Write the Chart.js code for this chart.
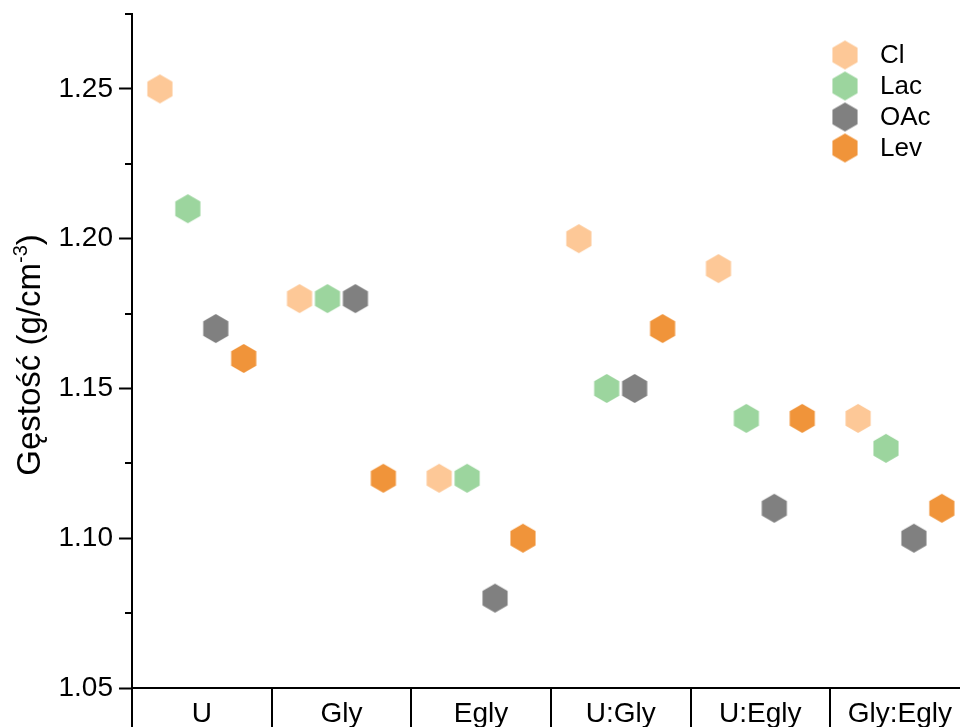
<!DOCTYPE html>
<html>
<head>
<meta charset="utf-8">
<script src="https://cdn.jsdelivr.net/npm/chart.js@4.4.1/dist/chart.umd.min.js"></script>
<style>
  html, body { margin: 0; padding: 0; background: #fff; }
  #chart { display: block; }
</style>
</head>
<body>
<canvas id="chart" width="960" height="727"></canvas>
<script>
const categories = ["U", "Gly", "Egly", "U:Gly", "U:Egly", "Gly:Egly"];
const seriesNames = ["Cl", "Lac", "OAc", "Lev"];
const clValues = [1.25, 1.18, 1.12, 1.20, 1.19, 1.14];
const lacValues = [1.21, 1.18, 1.12, 1.15, 1.14, 1.13];
const oacValues = [1.17, 1.18, 1.08, 1.15, 1.11, 1.10];
const levValues = [1.16, 1.12, 1.10, 1.17, 1.14, 1.11];
const yTicks = [1.05, 1.10, 1.15, 1.20, 1.25];
const yMinorTicks = [1.075, 1.125, 1.175, 1.225, 1.275];

const FONT = "'Liberation Sans', Arial, sans-serif";
const colors = ["#fdc897", "#9cd59e", "#808080", "#f0943a"];
const offsets = [-0.3, -0.1, 0.1, 0.3];

// hexagon marker, pointy top
function makeHex(color, r) {
  const w = Math.ceil(r * Math.sqrt(3)) + 2;
  const h = Math.ceil(2 * r) + 2;
  const c = document.createElement("canvas");
  c.width = w;
  c.height = h;
  const g = c.getContext("2d");
  g.fillStyle = color;
  g.beginPath();
  for (let k = 0; k < 6; k++) {
    const a = -Math.PI / 2 + k * Math.PI / 3;
    const px = w / 2 + r * Math.cos(a);
    const py = h / 2 + r * Math.sin(a);
    if (k === 0) g.moveTo(px, py); else g.lineTo(px, py);
  }
  g.closePath();
  g.fill();
  return c;
}

const hexes = colors.map((c) => makeHex(c, 14.5));
const allValues = [clValues, lacValues, oacValues, levValues];

const datasets = seriesNames.map((name, i) => ({
  label: name,
  data: allValues[i].map((v, j) => ({ x: j + 1 + offsets[i], y: v })),
  pointStyle: hexes[i],
  pointRadius: 14,
  showLine: false,
  backgroundColor: colors[i],
  borderColor: colors[i],
}));

const extrasPlugin = {
  id: "extras",
  afterDraw(chart) {
    const ctx = chart.ctx;
    const xs = chart.scales.x;
    const ys = chart.scales.y;
    const area = chart.chartArea;
    ctx.save();
    ctx.strokeStyle = "#000";
    ctx.lineWidth = 2;

    // category separators below the x axis
    for (let k = 0; k < categories.length; k++) {
      const px = Math.round(xs.getPixelForValue(k + 0.5));
      ctx.beginPath();
      ctx.moveTo(px, area.bottom);
      ctx.lineTo(px, chart.height);
      ctx.stroke();
    }

    // category labels
    ctx.fillStyle = "#000";
    ctx.font = "28px " + FONT;
    ctx.textAlign = "center";
    ctx.textBaseline = "alphabetic";
    categories.forEach((c, i) => {
      ctx.fillText(c, xs.getPixelForValue(i + 1), area.bottom + 34);
    });

    // minor ticks on y
    yMinorTicks.forEach((v) => {
      const py = Math.round(ys.getPixelForValue(v));
      ctx.beginPath();
      ctx.moveTo(area.left - 7, py);
      ctx.lineTo(area.left, py);
      ctx.stroke();
    });

    // y title with superscript
    ctx.translate(40, (area.top + area.bottom) / 2 + 4);
    ctx.rotate(-Math.PI / 2);
    const big = "33px " + FONT;
    const small = "20px " + FONT;
    const p1 = "Gęstość (g/cm";
    const p2 = "-3";
    const p3 = ")";
    ctx.font = big;
    const w1 = ctx.measureText(p1).width;
    const w3 = ctx.measureText(p3).width;
    ctx.font = small;
    const w2 = ctx.measureText(p2).width;
    let x0 = -(w1 + w2 + w3) / 2;
    ctx.textAlign = "left";
    ctx.font = big;
    ctx.fillText(p1, x0, 0);
    ctx.font = small;
    ctx.fillText(p2, x0 + w1, -13);
    ctx.font = big;
    ctx.fillText(p3, x0 + w1 + w2, 0);
    ctx.restore();

    // legend
    ctx.save();
    ctx.font = "26px " + FONT;
    ctx.fillStyle = "#000";
    ctx.textBaseline = "middle";
    ctx.textAlign = "left";
    seriesNames.forEach((name, i) => {
      const cy = 55 + i * 31;
      const img = hexes[i];
      ctx.drawImage(img, 845 - img.width / 2, cy - img.height / 2);
      ctx.fillText(name, 880, cy + 1);
    });
    ctx.restore();
  },
};

new Chart(document.getElementById("chart"), {
  type: "scatter",
  data: { datasets },
  options: {
    responsive: false,
    animation: false,
    layout: { autoPadding: false, padding: { top: 14, right: 0, bottom: 0, left: 0 } },
    plugins: {
      legend: { display: false },
      tooltip: { enabled: false },
    },
    scales: {
      x: {
        type: "linear",
        position: "bottom",
        min: 0.5,
        max: 6.43,
        border: { display: true, color: "#000", width: 2 },
        grid: { display: false, drawTicks: false },
        ticks: { display: false },
        afterFit: (scale) => {
          scale.height = 39;
        },
      },
      y: {
        type: "linear",
        position: "left",
        min: 1.05,
        max: 1.275,
        border: { display: true, color: "#000", width: 2 },
        grid: {
          drawOnChartArea: false,
          drawTicks: true,
          tickLength: 13,
          tickColor: "#000",
          tickWidth: 2,
        },
        ticks: {
          color: "#000",
          font: { size: 28, family: FONT },
          padding: 6,
          callback: (v) => Number(v).toFixed(2),
        },
        afterBuildTicks: (scale) => {
          scale.ticks = yTicks.map((v) => ({ value: v }));
        },
        afterFit: (scale) => {
          scale.width = 132;
          scale.paddingTop = 0;
          scale.paddingBottom = 0;
        },
      },
    },
  },
  plugins: [extrasPlugin],
});
</script>
</body>
</html>
